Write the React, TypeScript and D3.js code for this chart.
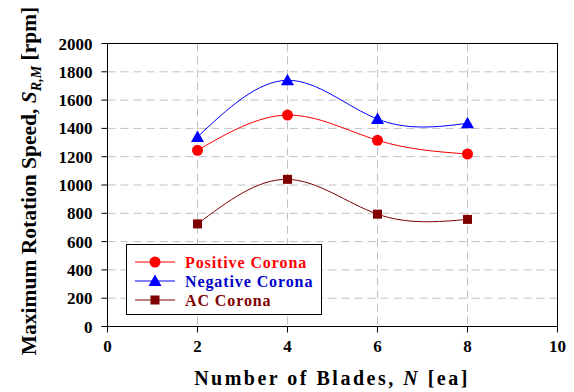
import React from "react";
import * as d3 from "d3";

const blades = [2, 4, 6, 8];
const positiveCorona = [1245, 1494, 1316, 1219];
const negativeCorona = [1340, 1740, 1466, 1436];
const acCorona = [725, 1040, 794, 757];
const xTicks = [0, 2, 4, 6, 8, 10];
const yTicks = [0, 200, 400, 600, 800, 1000, 1200, 1400, 1600, 1800, 2000];

const W = 574, H = 392;
const L = 107.5, R = 557.5, T = 43.5, B = 326.5;

export default function App() {
  const x = d3.scaleLinear().domain([0, 10]).range([L, R]);
  const y = d3.scaleLinear().domain([0, 2000]).range([B, T]);
  const line = d3.line<number>().x((_, i) => x(blades[i])).y((d) => y(d)).curve(d3.curveNatural);
  const font = "'Liberation Serif', 'Times New Roman', serif";
  const series = [
    { name: "Positive Corona", vals: positiveCorona, color: "#FF0000", text: "#FF0000", marker: "circle" },
    { name: "Negative Corona", vals: negativeCorona, color: "#0000FF", text: "#0000CC", marker: "triangle" },
    { name: "AC Corona", vals: acCorona, color: "#800000", text: "#800000", marker: "square" },
  ];
  const marker = (m: string, cx: number, cy: number, c: string, k: string) => {
    if (m === "circle") return <circle key={k} cx={cx} cy={cy} r={5.5} fill={c} />;
    if (m === "triangle") return <path key={k} d={`M${cx},${cy - 6.5}L${cx + 6.5},${cy + 5}L${cx - 6.5},${cy + 5}Z`} fill={c} />;
    return <rect key={k} x={cx - 4.5} y={cy - 4.5} width={9} height={9} fill={c} />;
  };
  return (
    <svg width={W} height={H} style={{ position: "absolute", left: 0, top: 0, background: "#fff" }}>
      <rect width={W} height={H} fill="#fff" />
      {yTicks.slice(1, -1).map((t) => (
        <line key={"gy" + t} x1={L} x2={R} y1={y(t)} y2={y(t)} stroke="#c0c0c0" strokeWidth={1} strokeDasharray="8,5" />
      ))}
      {xTicks.slice(1, -1).map((t) => (
        <line key={"gx" + t} x1={x(t)} x2={x(t)} y1={T} y2={B} stroke="#c0c0c0" strokeWidth={1} strokeDasharray="8,5" />
      ))}
      <rect x={L} y={T} width={R - L} height={B - T} fill="none" stroke="#000" strokeWidth={1} />
      {yTicks.map((t) => (
        <g key={"ty" + t}>
          <line x1={L - 6} x2={L} y1={y(t)} y2={y(t)} stroke="#000" />
          <text x={L - 15} y={y(t) + 6} textAnchor="end" fontFamily={font} fontWeight="bold" fontSize={17}>{t}</text>
        </g>
      ))}
      {xTicks.map((t) => (
        <g key={"tx" + t}>
          <line x1={x(t)} x2={x(t)} y1={B} y2={B + 6} stroke="#000" />
          <text x={x(t)} y={352} textAnchor="middle" fontFamily={font} fontWeight="bold" fontSize={17}>{t}</text>
        </g>
      ))}
      {series.map((s) => (
        <g key={s.name}>
          <path d={line(s.vals) || ""} fill="none" stroke={s.color} strokeWidth={1} />
          {s.vals.map((v, i) => marker(s.marker, x(blades[i]), y(v), s.color, s.name + i))}
        </g>
      ))}
      <rect x={126.5} y={244.5} width={195} height={70} fill="#fff" stroke="#000" strokeWidth={1} />
      {series.map((s, i) => {
        const ly = 262 + i * 19;
        return (
          <g key={"lg" + s.name}>
            <line x1={135} x2={175} y1={ly} y2={ly} stroke={s.color} strokeWidth={1.2} />
            {marker(s.marker, 155, ly, s.color, "lm" + i)}
            <text x={185} y={ly + 5.5} fontFamily={font} fontWeight="bold" fontSize={16} letterSpacing={0.9} fill={s.text}>{s.name}</text>
          </g>
        );
      })}
      <text transform="translate(36,181) rotate(-90)" textAnchor="middle" fontFamily={font} fontWeight="bold" fontSize={21.5}>
        Maximum Rotation Speed, <tspan fontStyle="italic">S</tspan><tspan fontStyle="italic" fontSize={14} dy={5}>R,M</tspan><tspan dy={-5}> [rpm]</tspan>
      </text>
      <text x={332} y={385} textAnchor="middle" fontFamily={font} fontWeight="bold" fontSize={20} letterSpacing={2.5}>
        Number of Blades, <tspan fontStyle="italic">N</tspan> [ea]
      </text>
    </svg>
  );
}
